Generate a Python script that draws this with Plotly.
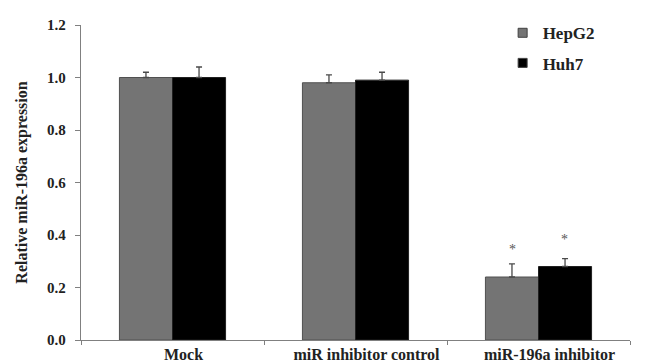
import plotly.graph_objects as go

categories = ["Mock", "miR inhibitor control", "miR-196a inhibitor"]
hepg2 = [1.00, 0.98, 0.24]
hepg2_err = [0.02, 0.03, 0.05]
huh7 = [1.00, 0.99, 0.28]
huh7_err = [0.04, 0.03, 0.03]
signif = ["", "", "*"]
series_names = ["HepG2", "Huh7"]
series_colors = ["#747474", "#000000"]

font_fam = "Liberation Serif, Times New Roman, serif"

fig = go.Figure()
for name, vals, errs, col, edge in [
    (series_names[0], hepg2, hepg2_err, series_colors[0], "#505050"),
    (series_names[1], huh7, huh7_err, series_colors[1], "#202020"),
]:
    fig.add_trace(go.Bar(
        name=name, x=categories, y=vals, showlegend=False,
        marker=dict(color=col, line=dict(color=edge, width=1)),
        error_y=dict(type="data", symmetric=False, array=errs, arrayminus=[0] * len(errs),
                     visible=True, color="#4a4a4a", thickness=1.3, width=3),
    ))

# legend entries with small square markers
for i, (name, col) in enumerate(zip(series_names, series_colors)):
    fig.add_trace(go.Scatter(
        x=[None], y=[None], mode="markers", name="<b>" + name + "</b>",
        marker=dict(symbol="square", size=9, color=col, line=dict(color="#404040", width=1)),
        legendgroup=name,
    ))

for i, c in enumerate(categories):
    if signif[i]:
        fig.add_annotation(x=c, y=hepg2[i] + hepg2_err[i], text=signif[i], showarrow=False,
                           xshift=-26, yshift=14, font=dict(family=font_fam, size=14, color="#555555"))
        fig.add_annotation(x=c, y=huh7[i] + huh7_err[i], text=signif[i], showarrow=False,
                           xshift=26, yshift=19, font=dict(family=font_fam, size=14, color="#555555"))

fig.update_layout(
    width=646, height=355,
    margin=dict(l=73, r=24, t=17, b=23, autoexpand=False),
    paper_bgcolor="white", plot_bgcolor="white",
    barmode="group", bargap=0.42, bargroupgap=0,
    font=dict(family=font_fam, size=14, color="#222222"),
    showlegend=True,
    legend=dict(x=0.768, y=1.031, xanchor="left", yanchor="top", bgcolor="rgba(0,0,0,0)",
                font=dict(size=17, color="#222222"), tracegroupgap=5, itemwidth=30),
    xaxis=dict(
        showline=True, linecolor="#808080", linewidth=1.3,
        ticks="outside", tickson="boundaries", ticklen=4, tickcolor="#808080",
        ticklabelshift=11,
        tickfont=dict(size=16, family=font_fam), tickprefix="<b>", ticksuffix="</b>",
        showgrid=False, automargin=False,
    ),
    yaxis=dict(
        range=[0, 1.2], dtick=0.2, tickformat=".1f",
        showline=True, linecolor="#808080", linewidth=1.3,
        ticks="outside", ticklen=5, tickcolor="#808080", ticklabelstandoff=6,
        tickfont=dict(size=15, family=font_fam), tickprefix="<b>", ticksuffix="</b>",
        showgrid=False, zeroline=False, automargin=False,
        title=dict(text="<b>Relative miR-196a expression</b>", font=dict(size=16, family=font_fam), standoff=15),
    ),
)

fig.write_html("out.html")
